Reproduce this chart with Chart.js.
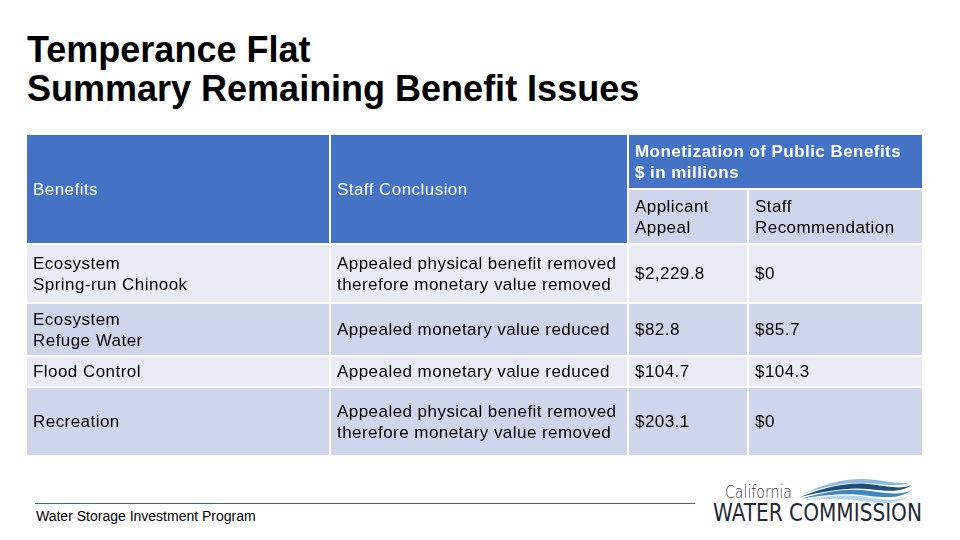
<!DOCTYPE html>
<html>
<head>
    <title>Temperance Flat - Summary Remaining Benefit Issues</title>
    <style>
        body { margin: 0; background: #fff; font-family: "Liberation Sans", Arial, sans-serif; }
        #page { position: relative; width: 960px; height: 540px; overflow: hidden; }
        #title { position: absolute; left: 27px; top: 30px; font-size: 36px; line-height: 39px; font-weight: bold; color: #000; }
        #tableChart { position: absolute; left: 27px; top: 135px; }
        #footLine { position: absolute; left: 35px; top: 503px; width: 660px; height: 1px; background: #3b6877; }
        #footText { position: absolute; left: 36px; top: 508px; font-size: 14px; line-height: 16px; color: #000; }
        #logo { position: absolute; left: 700px; top: 470px; }
    </style>
</head>
<body>
<div id="page">
    <div id="title">Temperance Flat<br>Summary Remaining Benefit Issues</div>
    <canvas id="tableChart" width="895" height="320"></canvas>
    <div id="footLine"></div>
    <div id="footText">Water Storage Investment Program</div>
    <svg id="logo" width="240" height="60" viewBox="0 0 240 60">
        <text x="25" y="28" font-family="DejaVu Sans, sans-serif" font-weight="200" font-size="17" fill="#3a3a3a" textLength="67" lengthAdjust="spacingAndGlyphs">California</text>
        <path d="M102 24 C125 14 145 8 165 9 C185 10 198 15 212 12 C198 18 185 14 165 13 C145 12 125 17 102 24 Z" fill="#8dbbe0"/>
        <path d="M100 27 C125 17 148 12 168 14 C188 16 200 20 212 15 C200 23 188 21 168 19 C148 17 125 21 100 27 Z" fill="#1f4e79"/>
        <path d="M100 29 C128 21 150 18 170 21 C190 24 202 25 212 20 C202 28 188 28 170 26 C150 23 128 24 100 29 Z" fill="#3f86c0"/>
        <path d="M104 30 C130 25 152 24 172 28 C190 31 200 30 210 26 C200 33 188 34 170 32 C150 29 130 28 104 30 Z" fill="#b9d7ee"/>
        <text x="13" y="51" font-family="Liberation Sans Narrow, DejaVu Sans Condensed, sans-serif" font-size="24" fill="#1e2a36" textLength="209" lengthAdjust="spacingAndGlyphs">WATER COMMISSION</text>
    </svg>
</div>
<script src="https://cdn.jsdelivr.net/npm/chart.js@4"></script>
<script>
    // Table contents
    const headerLabels = ['Benefits', 'Staff Conclusion'];
    const groupHeader = 'Monetization of Public Benefits\n$ in millions';
    const subHeaders = ['Applicant\nAppeal', 'Staff\nRecommendation'];
    const benefits = ['Ecosystem\nSpring-run Chinook', 'Ecosystem\nRefuge Water', 'Flood Control', 'Recreation'];
    const conclusions = [
        'Appealed physical benefit removed\ntherefore monetary value removed',
        'Appealed monetary value reduced',
        'Appealed monetary value reduced',
        'Appealed physical benefit removed\ntherefore monetary value removed'
    ];
    const applicantAppeal = ['$2,229.8', '$82.8', '$104.7', '$203.1'];
    const staffRecommendation = ['$0', '$85.7', '$104.3', '$0'];

    // Layout of the grid (in table units)
    const colBounds = [0, 303, 601, 721, 895];
    const rowBounds = [0, 54, 109, 168, 221, 252, 320];
    const gap = 1;

    const BLUE = '#4472c4';
    const LIGHT = '#e9ebf5';
    const DARK = '#cfd5ea';
    const FONT = '"Liberation Sans", Arial, sans-serif';

    const tablePlugin = {
        id: 'tablePlugin',
        afterDraw(chart) {
            const ctx = chart.ctx;
            const xs = chart.scales.x, ys = chart.scales.y;
            const px = v => xs.getPixelForValue(v);
            const py = v => ys.getPixelForValue(v);
            const lastC = colBounds.length - 1, lastR = rowBounds.length - 1;

            function cell(c0, c1, r0, r1, fill, text, color, bold) {
                const x0 = px(colBounds[c0]) + (c0 > 0 ? gap : 0);
                const x1 = px(colBounds[c1]) - (c1 < lastC ? gap : 0);
                const y0 = py(rowBounds[r0]) + (r0 > 0 ? gap : 0);
                const y1 = py(rowBounds[r1]) - (r1 < lastR ? gap : 0);
                ctx.fillStyle = fill;
                ctx.fillRect(x0, y0, x1 - x0, y1 - y0);
                const lines = text.split('\n');
                const lh = 21;
                const cy = (y0 + y1) / 2 - (lines.length - 1) * lh / 2;
                ctx.fillStyle = color;
                ctx.font = (bold ? 'bold ' : '') + '17px ' + FONT;
                ctx.letterSpacing = '0.45px';
                ctx.textBaseline = 'middle';
                ctx.textAlign = 'left';
                lines.forEach((l, i) => ctx.fillText(l, x0 + 6, cy + i * lh + 1));
            }

            ctx.save();
            cell(0, 1, 0, 2, BLUE, headerLabels[0], '#fff', false);
            cell(1, 2, 0, 2, BLUE, headerLabels[1], '#fff', false);
            cell(2, 4, 0, 1, BLUE, groupHeader, '#fff', true);
            cell(2, 3, 1, 2, DARK, subHeaders[0], '#000', false);
            cell(3, 4, 1, 2, DARK, subHeaders[1], '#000', false);
            benefits.forEach((b, i) => {
                const fill = i % 2 === 0 ? LIGHT : DARK;
                const r = i + 2;
                cell(0, 1, r, r + 1, fill, b, '#000', false);
                cell(1, 2, r, r + 1, fill, conclusions[i], '#000', false);
                cell(2, 3, r, r + 1, fill, applicantAppeal[i], '#000', false);
                cell(3, 4, r, r + 1, fill, staffRecommendation[i], '#000', false);
            });
            ctx.restore();
        }
    };

    new Chart(document.getElementById('tableChart'), {
        type: 'scatter',
        data: { datasets: [{ data: [] }] },
        options: {
            responsive: false,
            animation: false,
            devicePixelRatio: 1,
            layout: { padding: 0 },
            plugins: { legend: { display: false }, tooltip: { enabled: false } },
            scales: {
                x: { type: 'linear', min: 0, max: colBounds[colBounds.length - 1], display: false },
                y: { type: 'linear', min: 0, max: rowBounds[rowBounds.length - 1], reverse: true, display: false }
            }
        },
        plugins: [tablePlugin]
    });
</script>
</body>
</html>
